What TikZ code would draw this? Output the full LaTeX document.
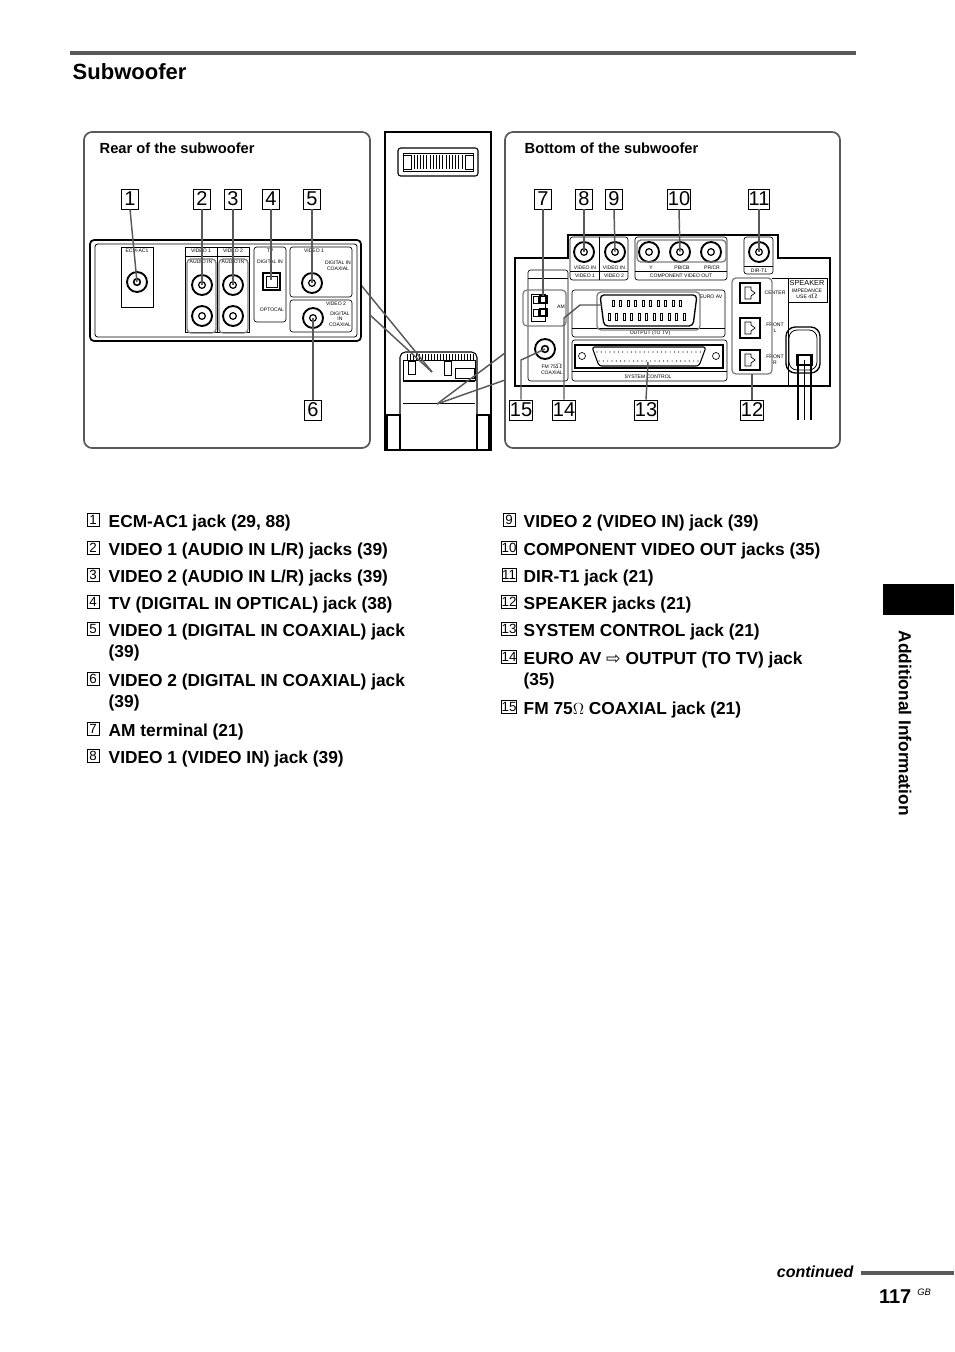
\documentclass[tikz,border=0pt]{standalone}
\usepackage{fontspec}
\setmainfont{Liberation Sans}
\newfontfamily\dvs{DejaVu Sans}
\begin{document}
\begin{tikzpicture}[x=0.75pt,y=-0.75pt,
  numbox/.style={draw,line width=0.7pt,minimum width=13pt,minimum height=15pt,inner sep=0pt,font=\fontsize{15}{15}\selectfont},
  lnum/.style={draw,line width=0.5pt,minimum width=9pt,minimum height=10pt,inner sep=0pt,font=\fontsize{10}{10}\selectfont},
  item/.style={anchor=west,font=\bfseries\fontsize{13}{16}\selectfont,align=left},
  tiny/.style={font=\fontsize{3.8}{4.2}\selectfont,inner sep=0.5pt,align=center},
  panel/.style={draw,gray!70!black,line width=1.3pt,rounded corners=6pt},
  grp/.style={draw,gray,line width=1pt,rounded corners=3pt},
  lead/.style={gray!70!black,line width=1.1pt},
  jack/.style={draw,line width=1.4pt,circle,minimum size=15pt,inner sep=0pt}]
\useasboundingbox (0,0) rectangle (954,1352);
\draw[gray!70!black,line width=3pt] (70,53)--(856,53);
\node[anchor=west,font=\bfseries\fontsize{16.5}{18}\selectfont] (title) at (68,72) {Subwoofer};
% side tab
\fill (883,584) rectangle (954,615);
\node[rotate=-90,anchor=west,font=\bfseries\fontsize{13}{14}\selectfont] (side) at (905,626) {Additional Information};
% panels
\draw[panel] (84,132) rectangle (370,448);
\draw[panel] (505,132) rectangle (840,448);
\node[anchor=west,font=\bfseries\fontsize{11}{12}\selectfont] (rl) at (95,148) {Rear of the subwoofer};
\node[anchor=west,font=\bfseries\fontsize{11}{12}\selectfont] (bl) at (520,148) {Bottom of the subwoofer};
% middle subwoofer
\draw[line width=1.6pt] (385,132) rectangle (491,450);
\draw[line width=0.8pt,rounded corners=2pt] (398,148) rectangle (478,176);
\draw[line width=0.6pt] (403,153) rectangle (473,171);
\foreach \i in {0,...,15} \draw[line width=0.6pt] (414+\i*3.2,155)--(414+\i*3.2,169);
\draw[line width=0.5pt] (403,155) rectangle (411,169); \draw[line width=0.5pt] (465,155) rectangle (473,169);
\draw[line width=0.8pt,rounded corners=4pt] (400,415)--(400,352)--(477,352)--(477,415);
\foreach \i in {0,...,22} \draw[line width=0.5pt] (407+\i*3,354)--(407+\i*3,360);
\draw[line width=0.6pt] (403,360) rectangle (475,380);
\draw[line width=1.6pt] (403,381)--(475,381);
\draw[line width=0.6pt] (408,361) rectangle (415,374); \draw[line width=0.6pt] (444,361) rectangle (451,375);\draw[line width=0.6pt] (455,368) rectangle (474,378);
\draw[line width=0.6pt] (403,403)--(475,403);
\draw[line width=0.8pt] (387,415) rectangle (400,450);\draw[line width=0.8pt] (477,415) rectangle (489,450);
\coordinate (cA) at (432,372); \coordinate (cB) at (437,404);
\draw[lead] (361,285)--(cA); \draw[lead] (370,315)--(cA);
\draw[lead] (505,353)--(cB); \draw[lead] (505,380)--(cB);
% rear panel
\draw[line width=1.3pt,rounded corners=3pt] (90,240) rectangle (361,341);
\draw[line width=0.6pt,rounded corners=2pt] (95,244) rectangle (357,337);
\draw[line width=0.5pt] (121,247) rectangle (153,307); \node[tiny] (ecmL) at (137,251) {ECM-AC1};
\node[jack] (j1) at (137,282) {}; \node[circle,draw,line width=1.2pt,minimum size=5pt,inner sep=0pt] at (137,282) {};
\draw[line width=0.5pt] (185,247) rectangle (217,332);\draw[line width=0.5pt] (185,256)--(249,256);
\draw[line width=0.5pt] (217,247) rectangle (249,332);
\node[tiny] at (201,251) {VIDEO 1}; \node[tiny] at (233,251) {VIDEO 2};
\node[tiny] at (201,262) {AUDIO IN}; \node[tiny] at (233,262) {AUDIO IN};
\foreach \x in {202,233} \foreach \y in {285,316} {\node[jack] at (\x,\y) {}; \node[circle,draw,line width=0.9pt,minimum size=5pt,inner sep=0pt] at (\x,\y) {};}
\coordinate (j2) at (202,285); \coordinate (j3) at (233,285);
\draw[grp] (187,259) rectangle (216,333); \draw[grp] (219,259) rectangle (248,333);
\draw[line width=0.5pt,rounded corners=2pt] (254,247) rectangle (286,322); \node[tiny] at (270,251) {TV};
\node[tiny] at (270,262) {DIGITAL IN}; \node[tiny] at (272,310) {OPTOCAL};
\draw[line width=1.3pt] (263,273) rectangle (280,290); \draw[line width=0.5pt] (266,276) rectangle (277,287);
\coordinate (j4) at (271,280);
\draw[line width=0.5pt,rounded corners=2pt] (290,247) rectangle (352,297); \node[tiny] at (314,251) {VIDEO 1};
\node[tiny] at (338,266) {DIGITAL IN\\COAXIAL};
\node[jack] (j5) at (312,283) {}; \node[circle,draw,line width=0.9pt,minimum size=5pt,inner sep=0pt] at (312,283) {};
\draw[line width=0.5pt,rounded corners=2pt] (290,300) rectangle (352,332); \node[tiny] at (336,304) {VIDEO 2};
\node[tiny] at (340,319) {DIGITAL\\IN\\COAXIAL};
\node[jack] (j6) at (313,318) {}; \node[circle,draw,line width=0.9pt,minimum size=5pt,inner sep=0pt] at (313,318) {};
\node[numbox] (n1) at (130,199) {1}; \node[numbox] (n2) at (202,199) {2}; \node[numbox] (n3) at (233,199) {3};
\node[numbox] (n4) at (271,199) {4}; \node[numbox] (n5) at (312,199) {5}; \node[numbox] (n6) at (313,410) {6};
\draw[lead] (n1.south)--(j1.center); \draw[lead] (n2.south)--(j2); \draw[lead] (n3.south)--(j3);
\draw[lead] (n4.south)--(j4); \draw[lead] (n5.south)--(j5.center); \draw[lead] (n6.north)--(j6.center);
% bottom panel
\draw[line width=1.3pt] (515,258)--(568,258)--(568,235)--(778,235)--(778,258)--(830,258)--(830,386)--(515,386)--cycle;
\draw[line width=0.5pt,rounded corners=2pt] (570,237) rectangle (628,280); \draw[line width=0.5pt] (599,237)--(599,280); \draw[line width=0.5pt] (570,271)--(628,271);
\node[tiny] at (585,268) {VIDEO IN}; \node[tiny] at (614,268) {VIDEO IN};
\node[tiny] at (585,276) {VIDEO 1}; \node[tiny] at (614,276) {VIDEO 2};
\draw[line width=0.5pt,rounded corners=2pt] (635,237) rectangle (727,280); \draw[line width=0.5pt] (635,271)--(727,271);
\node[tiny] at (681,276) {COMPONENT VIDEO OUT};
\node[tiny] at (651,268) {Y}; \node[tiny] at (682,268) {PB/CB}; \node[tiny] at (712,268) {PR/CR};
\draw[line width=0.5pt,rounded corners=2pt] (744,237) rectangle (773,274); \draw[line width=0.5pt] (744,266)--(773,266); \node[tiny] at (759,271) {DIR-T1};
\foreach \n/\x in {j8/584,j9/615,j10a/649,j10/680,j10c/711,j11/759} {\node[jack] (\n) at (\x,252) {}; \node[circle,draw,line width=0.9pt,minimum size=5pt,inner sep=0pt] at (\x,252) {};}
\draw[grp] (637,240) rectangle (726,262);
\draw[line width=0.5pt,rounded corners=2pt] (528,270) rectangle (568,381); \draw[line width=0.5pt] (528,278)--(568,278);
\draw[line width=0.6pt] (531,294) rectangle (545,321); \foreach \y in {296,309} {\draw[line width=0.5pt] (533,\y) rectangle (538,\y+7); \draw[line width=0.8pt] (540,\y) rectangle (547,\y+7);}
\node[tiny] at (561,307) {AM}; \coordinate (j7) at (543,296);
\draw[grp] (523,290) rectangle (566,326);
\node[jack] (j15) at (545,349) {}; \node[circle,draw,line width=1.2pt,minimum size=5pt,inner sep=0pt] at (545,349) {};
\node[tiny] at (552,369) {FM 75$\Omega$\\COAXIAL};
\draw[line width=0.5pt,rounded corners=2pt] (572,290) rectangle (725,337); \draw[line width=0.5pt] (572,328)--(725,328);
\node[tiny] at (650,333) {OUTPUT (TO TV)}; \node[tiny] at (711,297) {EURO AV};
\draw[line width=1pt,rounded corners=3pt] (600,295)--(697,295)--(693,326)--(604,326)--cycle;
\foreach \i in {0,...,9} \draw[line width=0.5pt] (612+\i*7.5,300) rectangle (614+\i*7.5,306);
\foreach \i in {0,...,10} \draw[line width=0.5pt] (608+\i*7.5,313) rectangle (610+\i*7.5,320);
\coordinate (j14) at (602,305);
\draw[grp] (597,292) rectangle (700,330);
\draw[line width=0.5pt,rounded corners=2pt] (572,340) rectangle (727,381); \draw[line width=0.5pt] (572,371)--(727,371);
\node[tiny] at (648,377) {SYSTEM CONTROL};
\draw[line width=1.2pt] (575,345) rectangle (723,368);
\draw[line width=0.8pt,rounded corners=2pt] (592,347)--(706,347)--(699,366)--(599,366)--cycle;
\draw[line width=0.5pt] (582,356) circle (3.5); \draw[line width=0.5pt] (716,356) circle (3.5);
\foreach \i in {0,...,24} \fill (597+\i*4.3,352) circle (0.6);
\foreach \i in {0,...,23} \fill (599+\i*4.3,361) circle (0.6);
\coordinate (j13) at (648,362);
\foreach \n/\y/\t in {s1/293/CENTER,s2/328/FRONT\\L,s3/360/FRONT\\R} {
  \draw[line width=0.8pt] (740,\y-10) rectangle (760,\y+10);
  \draw[line width=0.5pt] (745,\y-6)--(751,\y-6)--(751,\y-3)--(755,\y)--(751,\y+3)--(751,\y+6)--(745,\y+6)--cycle;
  \node[tiny] (\n) at (775,\y) {\t};}
\draw[grp] (732,278) rectangle (772,374); \coordinate (j12) at (752,374);
\draw[line width=0.5pt] (772,278)--(788,278)--(788,386); \draw[line width=0.5pt] (788,278) rectangle (827,302);
\node[tiny,font=\fontsize{5.5}{6}\selectfont] at (807,283) {SPEAKER}; \node[tiny] at (807,294) {IMPEDANCE\\USE 4$\Omega$};
\draw[line width=1pt,rounded corners=7pt] (786,373) rectangle (820,327);
\draw[line width=0.6pt,rounded corners=6pt] (789,370) rectangle (817,330);
\draw[line width=1.2pt] (797,355) rectangle (812,365); \draw[line width=1pt] (798,356)--(798,420);\draw[line width=1pt] (811,356)--(811,420);
\draw[line width=0.5pt] (804,360)--(804,420);
\node[numbox] (n7) at (543,199) {7}; \node[numbox] (n8) at (584,199) {8}; \node[numbox] (n9) at (614,199) {9};
\node[numbox] (n10) at (679,199) {10}; \node[numbox] (n11) at (759,199) {11};
\node[numbox] (n15) at (521,410) {15}; \node[numbox] (n14) at (564,410) {14}; \node[numbox] (n13) at (646,410) {13}; \node[numbox] (n12) at (752,410) {12};
\draw[lead] (n7.south)--(j7); \draw[lead] (n8.south)--(j8.center); \draw[lead] (n9.south)--(j9.center);
\draw[lead] (n10.south)--(j10.center); \draw[lead] (n11.south)--(j11.center);
\draw[lead] (n15.north)--(521,360)--(j15.center); \draw[lead] (n14.north)--(564,318)--(580,305)--(j14);
\draw[lead] (n13.north)--(j13); \draw[lead] (n12.north)--(j12);
% list
\foreach \n/\y/\t in {1/520/{ECM-AC1 jack (29, 88)},2/548/{VIDEO 1 (AUDIO IN L/R) jacks (39)},3/575/{VIDEO 2 (AUDIO IN L/R) jacks (39)},4/602/{TV (DIGITAL IN OPTICAL) jack (38)},5/629/{VIDEO 1 (DIGITAL IN COAXIAL) jack\\(39)},6/679/{VIDEO 2 (DIGITAL IN COAXIAL) jack\\(39)},7/729/{AM terminal (21)},8/756/{VIDEO 1 (VIDEO IN) jack (39)}} {
  \node[lnum] (l\n) at (93,\y) {\n}; \node[item,anchor=north west] (t\n) at (104,\y-10) {\t};}
\foreach \n/\y/\t in {9/520/{VIDEO 2 (VIDEO IN) jack (39)},10/548/{COMPONENT VIDEO OUT jacks (35)},11/575/{DIR-T1 jack (21)},12/602/{SPEAKER jacks (21)},13/629/{SYSTEM CONTROL jack (21)},14/657/{EURO AV {\dvs\mdseries ⇨} OUTPUT (TO TV) jack\\(35)},15/707/{FM 75$\Omega$ COAXIAL jack (21)}} {
  \node[lnum] (l\n) at (509,\y) {\n}; \node[item,anchor=north west] (t\n) at (519,\y-10) {\t};}
% footer
\node[anchor=east,font=\bfseries\itshape\fontsize{12}{12}\selectfont] (cont) at (858,1272) {continued};
\draw[gray!70!black,line width=3pt] (861,1273)--(954,1273);
\node[anchor=east,font=\bfseries\fontsize{15}{15}\selectfont] (pg) at (916,1297) {117};
\node[anchor=west,font=\itshape\fontsize{7}{7}\selectfont,inner sep=0pt] (gb) at (917,1292) {GB};
\end{tikzpicture}
\end{document}
